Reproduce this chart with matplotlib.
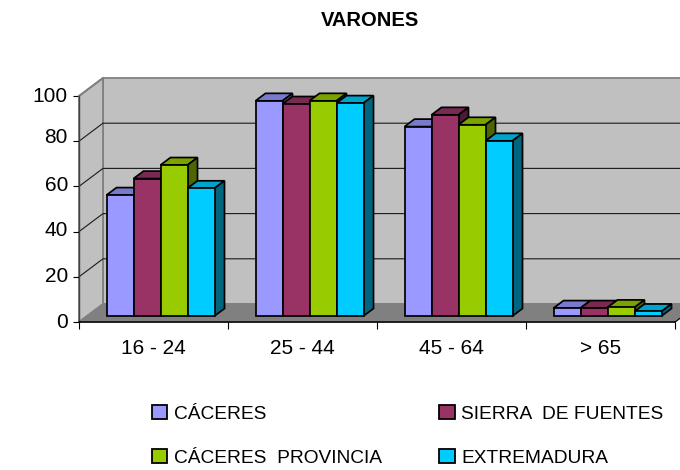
import matplotlib
matplotlib.use("Agg")
import matplotlib.pyplot as plt
from matplotlib.patches import Polygon, Patch
from matplotlib.transforms import ScaledTranslation

plt.rcParams['font.family'] = ['Liberation Sans', 'DejaVu Sans']

categories = ["16 - 24", "25 - 44", "45 - 64", "> 65"]
series_names = ["CÁCERES", "SIERRA  DE FUENTES", "CÁCERES  PROVINCIA", "EXTREMADURA"]
caceres = [53.5, 95.2, 83.8, 3.5]
sierra = [60.8, 93.8, 89, 3.5]
provincia = [66.8, 95.2, 84.6, 3.8]
extremadura = [56.5, 94.2, 77.5, 2]
y_ticks = [0, 20, 40, 60, 80, 100]

colors = ["#9999FF", "#993366", "#99CC00", "#00CCFF"]
tops = ["#7A7ACC", "#7A2952", "#7AA300", "#00A3CC"]
sides = ["#4D4D80", "#4D1A33", "#4D6600", "#006680"]

fig = plt.figure(figsize=(6.8, 4.7), dpi=100)
# plot area set so 0..4 and 0..100 land on the front edges of the walls
ax = fig.add_axes([79 / 680, 1 - 322 / 470, 596 / 680, 226 / 470])
ax.set_xlim(0, 4)
ax.set_ylim(0, 100)
ax.patch.set_visible(False)

# sizes of the fake 3d, in data units
px_x = 149.0
px_y = 2.26
wall_dx = 24 / px_x
wall_dy = 18 / px_y
bar_dx = 10 / px_x
bar_dy = 7.5 / px_y
bar_w = 27 / px_x
bar_start = 27.5 / px_x
base = 6 / px_y

# walls and floor
ax.add_patch(Polygon([(wall_dx, wall_dy), (4 + wall_dx, wall_dy), (4 + wall_dx, 100 + wall_dy), (wall_dx, 100 + wall_dy)],
                     fc="#C0C0C0", ec="#808080", lw=1.3, clip_on=False, zorder=1))
ax.add_patch(Polygon([(0, 0), (wall_dx, wall_dy), (wall_dx, 100 + wall_dy), (0, 100)],
                     fc="#C0C0C0", ec="#808080", lw=1.3, clip_on=False, zorder=1))
ax.add_patch(Polygon([(0, 0), (4, 0), (4 + wall_dx, wall_dy), (wall_dx, wall_dy)],
                     fc="#808080", ec="#808080", lw=1, clip_on=False, zorder=1))

# gridlines run along the left wall and then the back wall
for t in y_ticks[1:-1]:
    ax.plot([0, wall_dx, 4 + wall_dx], [t, t + wall_dy, t + wall_dy], color="#1A1A1A", lw=0.8, clip_on=False, zorder=2)
ax.plot([0, wall_dx], [100, 100 + wall_dy], color="#808080", lw=1.3, clip_on=False, zorder=2)
ax.plot([4, 4 + wall_dx], [0, wall_dy], color="black", lw=0.8, clip_on=False, zorder=2)

# bars, left to right so each one covers the side of the previous
all_series = [caceres, sierra, provincia, extremadura]
z = 3
for c in range(len(categories)):
    for s, values in enumerate(all_series):
        x0 = c + bar_start + s * bar_w
        x1 = x0 + bar_w
        top = base + values[c]
        ax.add_patch(Polygon([(x0, top), (x1, top), (x1 + bar_dx, top + bar_dy), (x0 + bar_dx, top + bar_dy)],
                             fc=tops[s], ec="black", lw=1.25, joinstyle="miter", clip_on=False, zorder=z))
        ax.add_patch(Polygon([(x1, base), (x1 + bar_dx, base + bar_dy), (x1 + bar_dx, top + bar_dy), (x1, top)],
                             fc=sides[s], ec="black", lw=1.25, joinstyle="miter", clip_on=False, zorder=z))
        ax.bar(x0, values[c], bar_w, bottom=base, align="edge", color=colors[s], edgecolor="black", lw=1.25,
               clip_on=False, zorder=z + 0.5)
        z += 1

for name in ["top", "right"]:
    ax.spines[name].set_visible(False)
ax.spines["bottom"].set_linewidth(1.1)
ax.spines["bottom"].set_zorder(200)
ax.spines["left"].set_color("#404040")
ax.spines["left"].set_linewidth(1.0)

ax.set_xticks(range(5))
ax.set_xticklabels([])
ax.set_xticks([c + 0.5 for c in range(4)], categories, minor=True)
ax.tick_params(axis="x", which="major", length=5, width=0.8)
ax.tick_params(axis="x", which="minor", length=0, pad=12, labelsize=15)
ax.set_yticks(y_ticks)
ax.tick_params(axis="y", length=4, width=0.8, pad=4, labelsize=15)

# the value labels do not sit exactly level with their ticks in the original
label_shift = [2, 2, 3, 3, 6, 2]
for label, shift in zip(ax.get_yticklabels(), label_shift):
    label.set_verticalalignment("center_baseline")
    label.set_transform(label.get_transform() + ScaledTranslation(0, shift / 100, fig.dpi_scale_trans))

fig.text(370 / 680, 1 - 20 / 470, "VARONES", ha="center", va="center", fontsize=14.5, fontweight="bold")

handles = [Patch(fc=colors[i], ec="black", lw=1.3) for i in [0, 2, 1, 3]]
labels = [series_names[i] for i in [0, 2, 1, 3]]
fig.legend(handles, labels, ncol=2, frameon=False, fontsize=13.8, loc="upper left",
           bbox_to_anchor=(146 / 680, 1 - 399 / 470), handlelength=0.8, handleheight=0.8,
           handletextpad=0.35, columnspacing=3.0, labelspacing=1.35, borderpad=0.3, borderaxespad=0)

fig.savefig("out.png", dpi=100)
